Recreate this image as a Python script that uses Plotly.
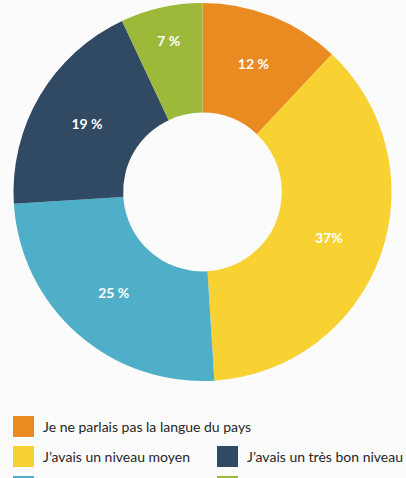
import plotly.graph_objects as go

categories = [
    "Je ne parlais pas la langue du pays",
    "J’avais un niveau moyen",
    "J’avais un bon niveau",
    "J’avais un très bon niveau",
    "J’avais quelques notions",
]
values = [12, 37, 25, 19, 7]
value_labels = ["12 %", "37%", "25 %", "19 %", "7 %"]
colors = ["#E98B20", "#F7D232", "#4FAFC9", "#2F4A62", "#9DB93A"]

W, H = 406, 478
BG = "#fbfbfb"

fig = go.Figure()
fig.add_trace(go.Pie(
    labels=categories,
    values=values,
    text=value_labels,
    textinfo="text",
    textposition="inside",
    insidetextorientation="horizontal",
    hole=0.42,
    sort=False,
    direction="clockwise",
    rotation=0,
    marker=dict(colors=colors, line=dict(width=0)),
    textfont=dict(family="Lato", size=14, color="white", weight="bold"),
    domain=dict(x=[13 / W, 392 / W], y=[(H - 381) / H, (H - 3) / H]),
    showlegend=False,
    hoverinfo="label+percent",
))

# Manual legend (row1: item0; row2: item1, item3; row3: item2, item4 - row 3 text falls below the visible area)
legend_slots = [(0, 13, 416, True), (1, 13, 446, True), (3, 217, 446, True),
                (2, 13, 476, False), (4, 217, 476, False)]
shapes = []
annotations = []
for idx, x0, y0, show_text in legend_slots:
    shapes.append(dict(
        type="rect", xref="paper", yref="paper",
        x0=x0 / W, x1=(x0 + 21) / W,
        y0=1 - (y0 + 21) / H, y1=1 - y0 / H,
        fillcolor=colors[idx], line=dict(width=0),
    ))
    if show_text:
        annotations.append(dict(
            text=categories[idx], xref="paper", yref="paper",
            x=(x0 + 28) / W, y=1 - (y0 + 10.5) / H,
            xanchor="left", yanchor="middle", showarrow=False,
            font=dict(family="Lato", size=14, color="#262626"),
        ))

fig.update_layout(
    width=W, height=H,
    margin=dict(l=0, r=0, t=0, b=0),
    paper_bgcolor=BG, plot_bgcolor=BG,
    shapes=shapes, annotations=annotations,
)

fig.write_html(
    "out.html",
    config={"displayModeBar": False},
    post_script="document.body.style.margin='0';document.body.style.overflow='hidden';",
)
